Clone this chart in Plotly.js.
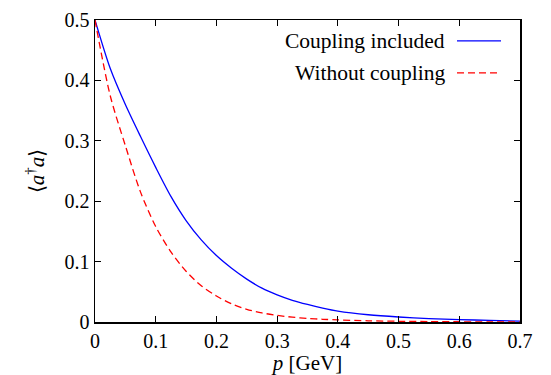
<!DOCTYPE html>
<html>
<head>
<meta charset="utf-8">
<script src="https://cdn.plot.ly/plotly-3.0.1.min.js"></script>
<style>html,body{margin:0;padding:0;background:#fff;overflow:hidden}
#chart text{font-family:'Liberation Serif',serif !important}</style>
</head>
<body>
<div id="chart" style="width:551px;height:375px"></div>
<script>
const momentum = [0, 0.025, 0.05, 0.075, 0.1, 0.125, 0.15, 0.175, 0.2, 0.225, 0.25, 0.275, 0.3, 0.325, 0.35, 0.375, 0.4, 0.45, 0.5, 0.55, 0.6, 0.65, 0.7];
const coupled = [0.5, 0.42, 0.36, 0.307, 0.256, 0.208, 0.168, 0.136, 0.11, 0.089, 0.071, 0.056, 0.045, 0.036, 0.029, 0.023, 0.018, 0.012, 0.0083, 0.0057, 0.004, 0.0026, 0.0015];
const uncoupled = [0.5, 0.375, 0.292, 0.215, 0.158, 0.116, 0.084, 0.060, 0.043, 0.030, 0.021, 0.015, 0.011, 0.008, 0.006, 0.0045, 0.0035, 0.002, 0.0012, 0.0007, 0.0004, 0.0002, 0.0001];
const seriesNames = ["Coupling included", "Without coupling"];
const xTicks = [0, 0.1, 0.2, 0.3, 0.4, 0.5, 0.6, 0.7];
const xTickText = ["0", "0.1", "0.2", "0.3", "0.4", "0.5", "0.6", "0.7"];
const yTicks = [0, 0.1, 0.2, 0.3, 0.4, 0.5];
const yTickText = ["0", "0.1", "0.2", "0.3", "0.4", "0.5"];

const FONT = "Liberation Serif";
const traces = [
  {x: momentum, y: coupled, type: "scatter", mode: "lines", name: seriesNames[0], line: {color: "#0000ff", width: 1.3, shape: "spline", smoothing: 0.8}},
  {x: momentum, y: uncoupled, type: "scatter", mode: "lines", name: seriesNames[1], line: {color: "#ff0000", width: 1.3, dash: "7px,4px", shape: "spline", smoothing: 0.8}}
];
const axisCommon = {
  showgrid: false, zeroline: false, showline: true, linecolor: "#000", linewidth: 1.5,
  mirror: "ticks", ticks: "inside", ticklen: 6, tickwidth: 1, tickcolor: "#000",
  tickfont: {size: 20}
};
const layout = {
  width: 551, height: 375,
  font: {family: FONT, size: 20, color: "#000"},
  margin: {l: 95, r: 31, t: 20, b: 53},
  paper_bgcolor: "#fff", plot_bgcolor: "#fff",
  showlegend: false,
  xaxis: Object.assign({}, axisCommon, {range: [0, 0.7], tickvals: xTicks, ticktext: xTickText,
    title: {text: "<i>p</i> [GeV]", font: {size: 21}, standoff: 2}}),
  yaxis: Object.assign({}, axisCommon, {range: [0, 0.5], tickvals: yTicks, ticktext: yTickText,
    title: {text: "\u27E8<i>a</i><sup>\u2020</sup><i>a</i>\u27E9", font: {size: 21}, standoff: 14}}),
  annotations: [
    {xref: "paper", yref: "paper", x: (447-95)/425, y: (322.7-41)/302.7, xanchor: "right", yanchor: "middle", showarrow: false,
     text: seriesNames[0], font: {size: 21.5}},
    {xref: "paper", yref: "paper", x: (447-95)/425, y: (322.7-73)/302.7, xanchor: "right", yanchor: "middle", showarrow: false,
     text: seriesNames[1], font: {size: 21.5}}
  ],
  shapes: [
    {type: "line", xref: "paper", yref: "paper", x0: (457-95)/425, x1: (501-95)/425, y0: (322.7-41)/302.7, y1: (322.7-41)/302.7,
     line: {color: "#0000ff", width: 1.3}},
    {type: "line", xref: "paper", yref: "paper", x0: (457-95)/425, x1: (501-95)/425, y0: (322.7-73)/302.7, y1: (322.7-73)/302.7,
     line: {color: "#ff0000", width: 1.3, dash: "7px,4px"}}
  ]
};
Plotly.newPlot("chart", traces, layout, {staticPlot: true, displayModeBar: false});
</script>
</body>
</html>
